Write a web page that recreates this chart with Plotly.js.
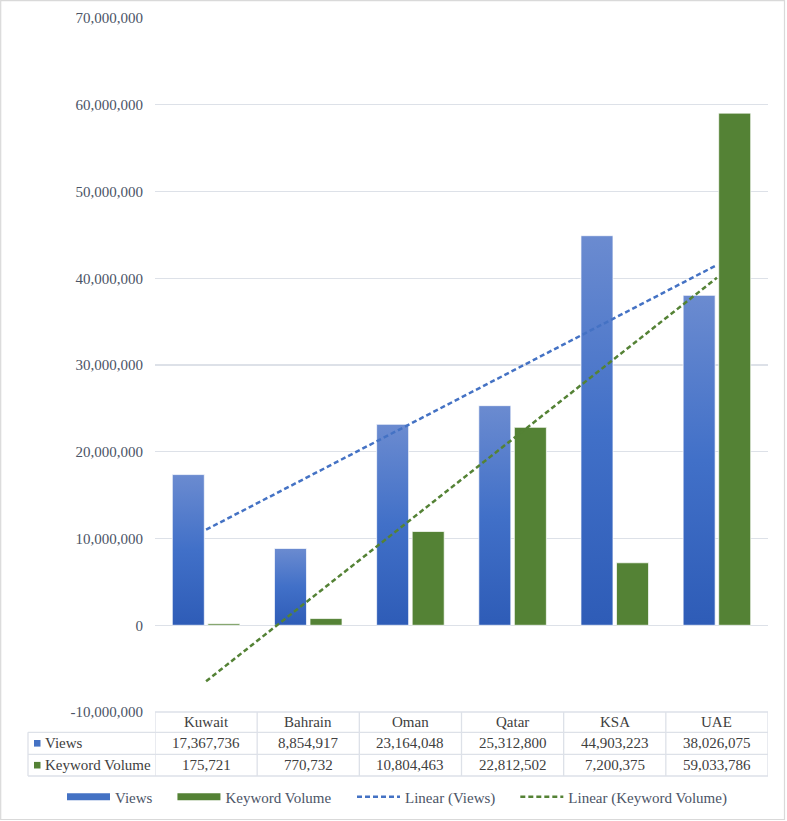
<!DOCTYPE html>
<html>
<head>
<meta charset="utf-8">
<script src="https://cdn.plot.ly/plotly-3.0.1.min.js"></script>
<style>html,body{margin:0;padding:0;background:#fff;}#chart{width:787px;height:821px;}</style>
</head>
<body>
<div id="chart"></div>
<script>
// ---- data ----
const countries = ["Kuwait", "Bahrain", "Oman", "Qatar", "KSA", "UAE"];
const views = [17367736, 8854917, 23164048, 25312800, 44903223, 38026075];
const keywordVolume = [175721, 770732, 10804463, 22812502, 7200375, 59033786];
const seriesNames = ["Views", "Keyword Volume"];
const trendNames = ["Linear (Views)", "Linear (Keyword Volume)"];
const yTickVals = [-10000000, 0, 10000000, 20000000, 30000000, 40000000, 50000000, 60000000, 70000000];

// ---- helpers ----
const W = 787, H = 821;
const M = {l: 155, r: 19, t: 18, b: 109, autoexpand: false};
const PW = W - M.l - M.r, PH = H - M.t - M.b;
const px2x = p => (p - M.l) / PW;           // pixel -> paper x
const py2y = p => (H - M.b - p) / PH;       // pixel -> paper y
const fmt = v => v.toLocaleString('en-US');
const PAD = '\u00a0\u00a0\u00a0\u00a0';

function linFit(ys) {
  const n = ys.length, xs = ys.map((_, i) => i + 1);
  const mx = xs.reduce((a, b) => a + b, 0) / n, my = ys.reduce((a, b) => a + b, 0) / n;
  let sxy = 0, sxx = 0;
  xs.forEach((x, i) => { sxy += (x - mx) * (ys[i] - my); sxx += (x - mx) * (x - mx); });
  const b = sxy / sxx, a = my - b * mx;
  return xs.map(x => a + b * x);
}

const BLUE = '#4472C4', GREEN = '#548235';
const FONT = 'Liberation Serif, Times New Roman, serif';
const TXT = '#404040', GRID = '#dde1e8';

const traces = [
  {type: 'bar', x: countries, y: views, name: seriesNames[0], showlegend: false,
   marker: {color: BLUE, line: {color: 'rgba(255,255,255,0.7)', width: 1}}, hoverinfo: 'skip'},
  {type: 'bar', x: countries, y: keywordVolume, name: seriesNames[1], showlegend: false,
   marker: {color: GREEN, line: {color: 'rgba(255,255,255,0.7)', width: 1}}, hoverinfo: 'skip'},
  // legend entries for the bars
  {type: 'scatter', mode: 'lines', x: [null], y: [null], name: seriesNames[0] + PAD, line: {color: BLUE, width: 7}, legend: 'legend'},
  {type: 'scatter', mode: 'lines', x: [null], y: [null], name: seriesNames[1], line: {color: GREEN, width: 7}, legend: 'legend'},
  {type: 'scatter', mode: 'lines', x: countries, y: linFit(views), name: trendNames[0] + PAD,
   line: {color: BLUE, width: 2.5, dash: '5px,3px'}, hoverinfo: 'skip', legend: 'legend2'},
  {type: 'scatter', mode: 'lines', x: countries, y: linFit(keywordVolume), name: trendNames[1],
   line: {color: GREEN, width: 2.5, dash: '5px,3px'}, hoverinfo: 'skip', legend: 'legend2'}
];

// ---- data table drawn under the plot ----
const shapes = [], annotations = [];
const lineStyle = {color: GRID, width: 1.3};
shapes.push({type: 'line', xref: 'paper', yref: 'paper', x0: 0, x1: 1, y0: py2y(712), y1: py2y(712), line: lineStyle});
[732.3, 754.3, 776].forEach(p => shapes.push({type: 'line', xref: 'paper', yref: 'paper', x0: px2x(28), x1: 1, y0: py2y(p), y1: py2y(p), line: lineStyle}));
shapes.push({type: 'line', xref: 'paper', yref: 'paper', x0: px2x(28), x1: px2x(28), y0: py2y(732.3), y1: py2y(776), line: lineStyle});
for (let i = 0; i <= countries.length; i++) {
  shapes.push({type: 'line', xref: 'x', yref: 'paper', x0: i - 0.5, x1: i - 0.5, y0: py2y(712), y1: py2y(776), line: lineStyle});
}
const rowMid = [722, 743.3, 765.2];
countries.forEach((c, i) => {
  annotations.push({xref: 'x', yref: 'paper', x: i, y: py2y(rowMid[0]), text: c, showarrow: false,
    font: {family: FONT, size: 15, color: TXT}, xanchor: 'center', yanchor: 'middle'});
  annotations.push({xref: 'x', yref: 'paper', x: i, y: py2y(rowMid[1]), text: fmt(views[i]), showarrow: false,
    font: {family: FONT, size: 15, color: TXT}, xanchor: 'center', yanchor: 'middle'});
  annotations.push({xref: 'x', yref: 'paper', x: i, y: py2y(rowMid[2]), text: fmt(keywordVolume[i]), showarrow: false,
    font: {family: FONT, size: 15, color: TXT}, xanchor: 'center', yanchor: 'middle'});
});
[[seriesNames[0], BLUE, rowMid[1]], [seriesNames[1], GREEN, rowMid[2]]].forEach(([n, col, m]) => {
  shapes.push({type: 'rect', xref: 'paper', yref: 'paper', x0: px2x(34), x1: px2x(40.5), y0: py2y(m + 3.3), y1: py2y(m - 3.3),
    fillcolor: col, line: {width: 0}});
  annotations.push({xref: 'paper', yref: 'paper', x: px2x(43), y: py2y(m), text: n, showarrow: false,
    font: {family: FONT, size: 15, color: TXT}, xanchor: 'left', yanchor: 'middle'});
});
// outer border
shapes.push({type: 'rect', xref: 'paper', yref: 'paper', x0: px2x(0.7), x1: px2x(784.5), y0: py2y(0.7), y1: py2y(819.5),
  line: {color: '#d9d9d9', width: 1.2}, fillcolor: 'rgba(0,0,0,0)'});

const legendBase = {orientation: 'h', xref: 'container', xanchor: 'left', yref: 'paper', y: py2y(797), yanchor: 'middle',
  font: {family: FONT, size: 15, color: '#4b5466'}, itemwidth: 43, tracegroupgap: 0, traceorder: 'normal',
  bgcolor: 'rgba(0,0,0,0)'};

const layout = {
  width: W, height: H,
  margin: M,
  paper_bgcolor: '#ffffff', plot_bgcolor: '#ffffff',
  font: {family: FONT, size: 15, color: TXT},
  barmode: 'group', bargap: 0.304, bargroupgap: 0.1,
  xaxis: {type: 'category', showticklabels: false, showgrid: false, zeroline: false, showline: false,
    range: [-0.5, countries.length - 0.5], fixedrange: true},
  yaxis: {range: [-10000000, 70000000], tickvals: yTickVals, ticktext: yTickVals.map(fmt),
    showgrid: true, gridcolor: GRID, gridwidth: 1.3, zeroline: false, showline: false,
    ticks: 'outside', ticklen: 8, tickcolor: 'rgba(0,0,0,0)',
    tickfont: {family: FONT, size: 15, color: '#4b5466'}, fixedrange: true},
  legend: Object.assign({}, legendBase, {x: 62 / W}),
  legend2: Object.assign({}, legendBase, {x: 352 / W}),
  shapes: shapes,
  annotations: annotations
};

Plotly.newPlot('chart', traces, layout, {displayModeBar: false, staticPlot: true}).then(gd => {
  const svg = gd.querySelector('.main-svg');
  const ns = 'http://www.w3.org/2000/svg';
  let defs = svg.querySelector('defs');
  if (!defs) { defs = document.createElementNS(ns, 'defs'); svg.insertBefore(defs, svg.firstChild); }
  const lg = document.createElementNS(ns, 'linearGradient');
  lg.setAttribute('id', 'viewsGrad');
  lg.setAttribute('x1', '0'); lg.setAttribute('y1', '0'); lg.setAttribute('x2', '0'); lg.setAttribute('y2', '1');
  [['0%', '#6b8bd0'], ['50%', '#4170c8'], ['100%', '#2e5cb7']].forEach(([o, c]) => {
    const s = document.createElementNS(ns, 'stop'); s.setAttribute('offset', o); s.setAttribute('stop-color', c); lg.appendChild(s);
  });
  defs.appendChild(lg);
  const barTraces = gd.querySelectorAll('.barlayer .trace');
  if (barTraces.length) barTraces[0].querySelectorAll('.point path').forEach(p => { p.style.fill = 'url(#viewsGrad)'; });
});
</script>
</body>
</html>
